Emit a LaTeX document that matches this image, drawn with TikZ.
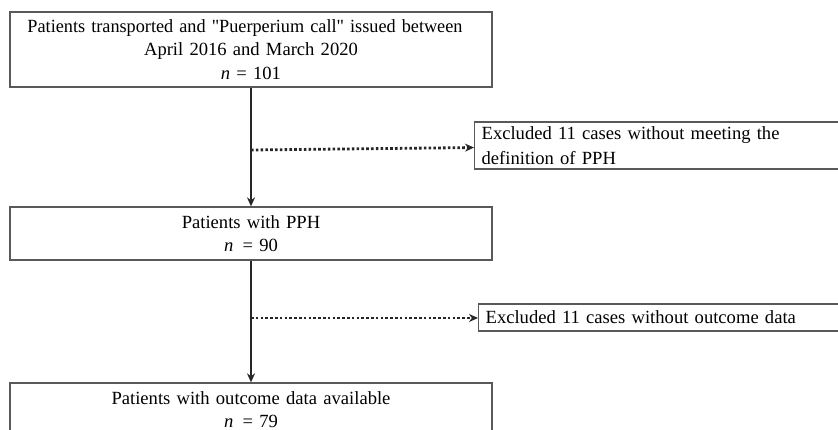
\documentclass[tikz,border=0pt]{standalone}
\usepackage{fontspec}
\setmainfont{Liberation Serif}
\usetikzlibrary{arrows.meta}
\tikzset {>=Stealth}
\tikzset{
  mainbox/.style={draw=black!65,line width=1.3pt,inner sep=0pt,
    text width=482pt,minimum height=#1,align=center,
    font=\fontsize{18.6}{23.5}\selectfont},
  exclbox/.style={draw=black!65,line width=1.3pt,inner xsep=7pt,inner ysep=0pt,
    text width=360pt,minimum height=#1,align=left,anchor=west,
    font=\fontsize{18.6}{24.5}\selectfont},
  flow/.style={line width=2.8pt,draw=black!85,
    -{Stealth[length=9pt,width=8pt]}},
  side/.style={line width=2.8pt,draw=black!85,dash pattern=on 2.6pt off 2.2pt,
    -{Stealth[length=9pt,width=8pt]}}
}

\begin{document}
\begin{tikzpicture}[x=1pt,y=-1pt]
\useasboundingbox (0,0) rectangle (838,430);

\node[mainbox=75pt] (all) at (251,49.5)
  {\hspace*{-12pt}\scalebox{0.98}[1]{Patients transported and \textquotedbl Puerperium call\textquotedbl\ issued between}\\
   April 2016 and March 2020\\
   \textit{n} = 101};
\node[mainbox=53pt] (pph) at (251,233.5)
  {Patients with PPH\\ \textit{n}~\,= 90};
\node[mainbox=53pt] (outcome) at (251,409.5)
  {Patients with outcome data available\\ \textit{n}~\,= 79};

\node[exclbox=47pt] (nodef) at (474,145.5)
  {Excluded 11 cases without meeting the\\ definition of PPH};
\node[exclbox=27pt] (nodata) at (478,317.5)
  {Excluded 11 cases without outcome data};

\path
  (251,150) coordinate (S1)
  (251,318) coordinate (S2);

\draw[flow] (all) -- (pph);
\draw[flow] (pph) -- (outcome);

\draw[side] (S1) -- (nodef);
\draw[side] (S2) -- (nodata.west |- S2);
\end{tikzpicture}
\end{document}
